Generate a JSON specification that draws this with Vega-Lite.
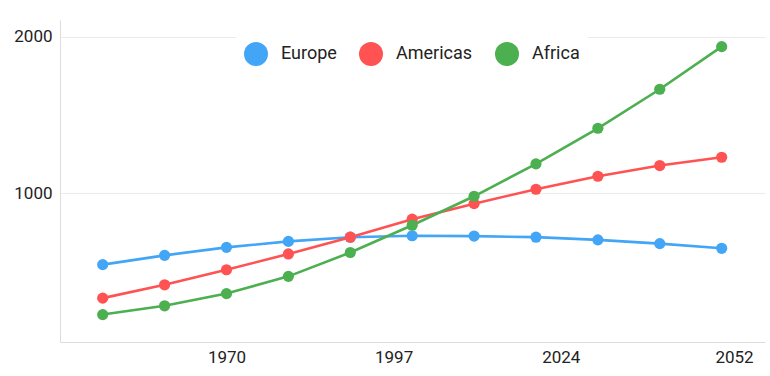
{
  "$schema": "https://vega.github.io/schema/vega-lite/v6.json",
  "width": 705,
  "height": 322,
  "autosize": {"type": "none"},
  "padding": {"left": 60, "top": 20, "right": 5, "bottom": 34},
  "background": "white",
  "config": {
    "view": {"stroke": null},
    "font": "Roboto",
    "axis": {"labelFont": "Roboto", "labelFontSize": 17, "labelColor": "#222222", "ticks": false, "domainColor": "#dddddd", "gridColor": "#ebebeb", "title": null}
  },
  "data": {
    "values": [
      {"year": 1950, "region": "Europe", "value": 546},
      {"year": 1960, "region": "Europe", "value": 605},
      {"year": 1970, "region": "Europe", "value": 656},
      {"year": 1980, "region": "Europe", "value": 694},
      {"year": 1990, "region": "Europe", "value": 721},
      {"year": 2000, "region": "Europe", "value": 730},
      {"year": 2010, "region": "Europe", "value": 728},
      {"year": 2020, "region": "Europe", "value": 721},
      {"year": 2030, "region": "Europe", "value": 704},
      {"year": 2040, "region": "Europe", "value": 680},
      {"year": 2050, "region": "Europe", "value": 650},
      {"year": 1950, "region": "Americas", "value": 332},
      {"year": 1960, "region": "Americas", "value": 417},
      {"year": 1970, "region": "Americas", "value": 513},
      {"year": 1980, "region": "Americas", "value": 614},
      {"year": 1990, "region": "Americas", "value": 721},
      {"year": 2000, "region": "Americas", "value": 836},
      {"year": 2010, "region": "Americas", "value": 935},
      {"year": 2020, "region": "Americas", "value": 1027},
      {"year": 2030, "region": "Americas", "value": 1110},
      {"year": 2040, "region": "Americas", "value": 1178},
      {"year": 2050, "region": "Americas", "value": 1231},
      {"year": 1950, "region": "Africa", "value": 227},
      {"year": 1960, "region": "Africa", "value": 283},
      {"year": 1970, "region": "Africa", "value": 361},
      {"year": 1980, "region": "Africa", "value": 471},
      {"year": 1990, "region": "Africa", "value": 623},
      {"year": 2000, "region": "Africa", "value": 797},
      {"year": 2010, "region": "Africa", "value": 982},
      {"year": 2020, "region": "Africa", "value": 1189},
      {"year": 2030, "region": "Africa", "value": 1416},
      {"year": 2040, "region": "Africa", "value": 1665},
      {"year": 2050, "region": "Africa", "value": 1937}
    ]
  },
  "encoding": {
    "x": {
      "field": "year", "type": "quantitative",
      "scale": {"domain": [1943.1, 2057], "nice": false, "zero": false},
      "axis": {"values": [1970, 1997, 2024, 2052], "format": "d", "grid": false, "labelPadding": 7, "domainWidth": 1}
    },
    "y": {
      "field": "value", "type": "quantitative",
      "scale": {"domain": [52, 2107], "nice": false, "zero": false},
      "axis": {"values": [1000, 2000], "format": "d", "grid": true, "labelPadding": 8}
    },
    "color": {
      "field": "region", "type": "nominal",
      "scale": {"domain": ["Europe", "Americas", "Africa"], "range": ["#42A5F5", "#FF5252", "#4CAF50"]},
      "legend": {
        "title": null, "orient": "none", "direction": "horizontal",
        "legendX": 176, "legendY": 14,
        "fillColor": "white", "padding": 8,
        "symbolType": "circle", "symbolSize": 576, "symbolStrokeWidth": 0, "symbolOpacity": 1,
        "labelFont": "Roboto", "labelFontSize": 18, "labelColor": "#222222",
        "labelOffset": 13, "columnPadding": 22
      }
    }
  },
  "layer": [
    {"mark": {"type": "line", "strokeWidth": 2.6}},
    {"mark": {"type": "point", "filled": true, "size": 125, "opacity": 1}}
  ]
}
